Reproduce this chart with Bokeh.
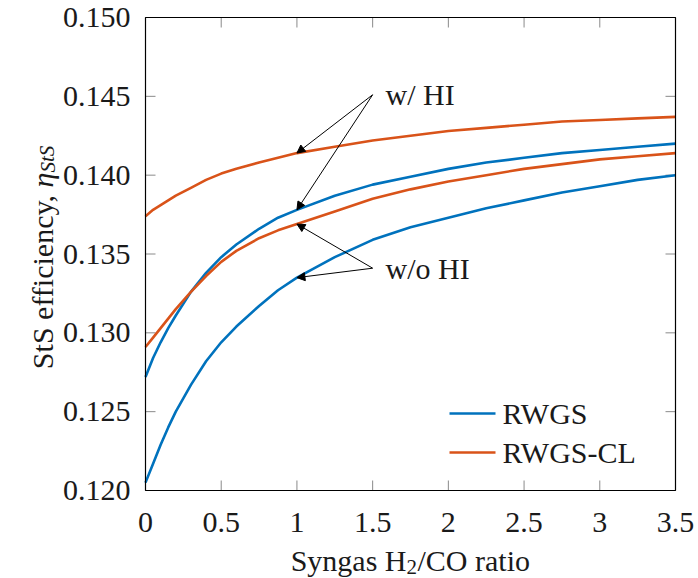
from bokeh.plotting import figure
from bokeh.models import Range1d, Arrow, NormalHead
from bokeh.core.properties import value
from bokeh.embed import file_html
from bokeh.resources import INLINE

# ---------------- data ----------------
h2_co_ratio = [0, 0.05, 0.1, 0.15, 0.2, 0.3, 0.4, 0.5, 0.6, 0.75, 0.875, 1,
               1.25, 1.5, 1.75, 2, 2.25, 2.5, 2.75, 3, 3.25, 3.5]
rwgs_with_hi = [0.1272, 0.1284, 0.1294, 0.1303, 0.1311, 0.1326, 0.1338, 0.1348,
                0.1356, 0.1366, 0.1373, 0.1378, 0.1387, 0.1394, 0.1399, 0.1404,
                0.1408, 0.1411, 0.1414, 0.1416, 0.1418, 0.1420]
rwgs_without_hi = [0.1205, 0.1217, 0.1229, 0.1240, 0.1250, 0.1267, 0.1282, 0.1294,
                   0.1304, 0.1317, 0.1327, 0.1335, 0.1348, 0.1359, 0.1367, 0.1373,
                   0.1379, 0.1384, 0.1389, 0.1393, 0.1397, 0.1400]
rwgscl_with_hi = [0.1374, 0.1378, 0.1381, 0.1384, 0.1387, 0.1392, 0.1397, 0.1401,
                  0.1404, 0.1408, 0.1411, 0.1414, 0.1418, 0.1422, 0.1425, 0.1428,
                  0.1430, 0.1432, 0.1434, 0.1435, 0.1436, 0.1437]
rwgscl_without_hi = [0.1291, 0.1297, 0.1303, 0.1309, 0.1315, 0.1326, 0.1336, 0.1345,
                     0.1352, 0.1360, 0.1365, 0.1369, 0.1377, 0.1385, 0.1391, 0.1396,
                     0.1400, 0.1404, 0.1407, 0.1410, 0.1412, 0.1414]

x_ticks = [0, 0.5, 1, 1.5, 2, 2.5, 3, 3.5]
x_tick_labels = ["0", "0.5", "1", "1.5", "2", "2.5", "3", "3.5"]
y_ticks = [0.120, 0.125, 0.130, 0.135, 0.140, 0.145, 0.150]
y_tick_labels = ["0.120", "0.125", "0.130", "0.135", "0.140", "0.145", "0.150"]
x_min, x_max = 0, 3.5
y_min, y_max = 0.120, 0.150

series_names = ["RWGS", "RWGS-CL"]
annot_with = "w/ HI"
annot_without = "w/o HI"
annot_x = 1.5
annot_y_with = 0.1451
annot_y_without = 0.1341
arrow_x_end = 1.0
x_label_parts = ["Syngas H", "2", "/CO ratio"]
y_label_parts = ["StS efficiency, ", "\u03b7", "StS"]

# ---------------- styling / layout (pixels) ----------------
FONT = value("Liberation Serif")
FS = value("30px")
FS_SUB = value("21px")
TXT = "#1a1a1a"
BLUE = "#0072BD"
ORANGE = "#D95319"
TICK = "#8a8a8a"
W, H = 698, 578
PAD_L, PAD_R, PAD_T, PAD_B = 145, 23, 17, 88      # plot area inside the canvas
AREA_W = W - PAD_L - PAD_R
AREA_H = H - PAD_T - PAD_B
kx = (x_max - x_min) / AREA_W                      # data units per pixel
ky = (y_max - y_min) / AREA_H
TICK_PX = 10

p = figure(width=W, height=H, output_backend="svg", toolbar_location=None,
           x_range=Range1d(x_min - PAD_L * kx, x_max + PAD_R * kx),
           y_range=Range1d(y_min - PAD_B * ky, y_max + PAD_T * ky),
           x_axis_location=None, y_axis_location=None,
           min_border=0, min_border_left=0, min_border_right=0,
           min_border_top=0, min_border_bottom=0)
p.grid.visible = False
p.outline_line_color = None
p.background_fill_color = "white"
p.border_fill_color = "white"

# ---------------- axes box and inner ticks ----------------
nx, ny = len(x_ticks), len(y_ticks)
dx, dy = TICK_PX * kx, TICK_PX * ky
p.segment(x0=x_ticks, y0=[y_min] * nx, x1=x_ticks, y1=[y_min + dy] * nx,
          line_color=TICK, line_width=1)
p.segment(x0=x_ticks, y0=[y_max] * nx, x1=x_ticks, y1=[y_max - dy] * nx,
          line_color=TICK, line_width=1)
p.segment(x0=[x_min] * ny, y0=y_ticks, x1=[x_min + dx] * ny, y1=y_ticks,
          line_color=TICK, line_width=1)
p.segment(x0=[x_max] * ny, y0=y_ticks, x1=[x_max - dx] * ny, y1=y_ticks,
          line_color=TICK, line_width=1)

# ---------------- lines ----------------
series = [(rwgs_with_hi, BLUE), (rwgs_without_hi, BLUE),
          (rwgscl_with_hi, ORANGE), (rwgscl_without_hi, ORANGE)]
for ys, col in series:
    p.line(h2_co_ratio, ys, line_color=col, line_width=2.6)

p.quad(left=[x_min], right=[x_max], bottom=[y_min], top=[y_max],
       fill_color=None, line_color="black", line_width=1.2)

# ---------------- tick labels ----------------
p.text(x=[x_min - 15 * kx] * ny, y=y_ticks, text=y_tick_labels,
       text_align="right", text_baseline="middle",
       text_font=FONT, text_font_size=FS, text_color=TXT)
p.text(x=x_ticks, y=[y_min - 32 * ky] * nx, text=x_tick_labels,
       text_align="center", text_baseline="alphabetic",
       text_font=FONT, text_font_size=FS, text_color=TXT)

# ---------------- axis titles ----------------
xl = x_min + (406 - PAD_L) * kx
p.text(x=[xl], y=[y_min - 70 * ky], text=[x_label_parts[0]], text_align="right",
       text_baseline="alphabetic", text_font=FONT, text_font_size=FS, text_color=TXT)
p.text(x=[xl], y=[y_min - 76 * ky], text=[x_label_parts[1]], text_align="left",
       text_baseline="alphabetic", text_font=FONT, text_font_size=FS_SUB, text_color=TXT)
p.text(x=[xl + 11 * kx], y=[y_min - 70 * ky], text=[x_label_parts[2]],
       text_align="left", text_baseline="alphabetic", text_font=FONT,
       text_font_size=FS, text_color=TXT)

ang = 1.5708
yl = y_max - (187 - PAD_T) * ky
p.text(x=[x_min - 103 * kx], y=[yl], text=[y_label_parts[0]], angle=ang,
       text_align="right", text_baseline="alphabetic",
       text_font=FONT, text_font_size=FS, text_color=TXT)
p.text(x=[x_min - 103 * kx], y=[yl], text=[y_label_parts[1]], angle=ang,
       text_align="left", text_baseline="alphabetic", text_font=FONT,
       text_font_style="italic", text_font_size=FS, text_color=TXT)
p.text(x=[x_min - 98 * kx], y=[yl + 15 * ky], text=[y_label_parts[2]], angle=ang,
       text_align="left", text_baseline="alphabetic", text_font=FONT,
       text_font_style="italic", text_font_size=FS_SUB, text_color=TXT)

# ---------------- legend (bottom right, no box) ----------------
leg_x0 = x_min + 304 * kx
leg_x1 = x_min + 350 * kx
leg_tx = x_min + 357 * kx
leg_rows = [y_min + 77 * ky, y_min + 38 * ky]
for name, col, yr in zip(series_names, [BLUE, ORANGE], leg_rows):
    p.segment(x0=[leg_x0], y0=[yr], x1=[leg_x1], y1=[yr], line_color=col,
              line_width=2.6)
    p.text(x=[leg_tx], y=[yr], text=[name], text_align="left",
           text_baseline="middle", text_font=FONT, text_font_size=FS,
           text_color=TXT)

# ---------------- annotations ----------------
i1 = h2_co_ratio.index(arrow_x_end)
for ys0, ends in ((annot_y_with, (rwgscl_with_hi[i1], rwgs_with_hi[i1])),
                  (annot_y_without, (rwgscl_without_hi[i1], rwgs_without_hi[i1]))):
    for yend in ends:
        p.add_layout(Arrow(end=NormalHead(size=8), x_start=annot_x, y_start=ys0,
                           x_end=arrow_x_end, y_end=yend,
                           line_color="black", line_width=1))

p.text(x=[annot_x + 0.085, annot_x + 0.085], y=[annot_y_with, annot_y_without],
       text=[annot_with, annot_without], text_align="left",
       text_baseline="middle", text_font=FONT, text_font_size=FS,
       text_color=TXT)

open("out.html", "w").write(file_html(p, INLINE))
